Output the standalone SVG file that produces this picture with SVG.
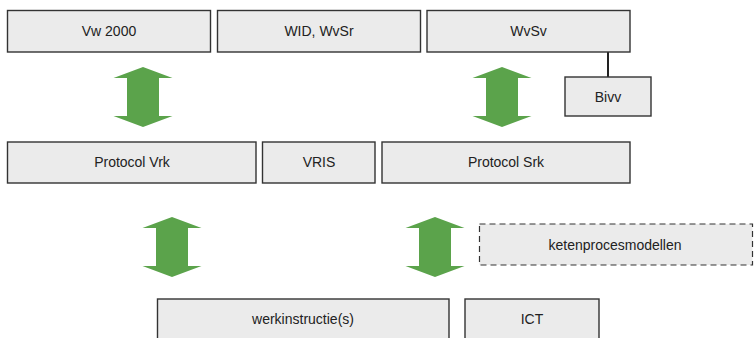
<svg xmlns="http://www.w3.org/2000/svg" width="755" height="338" viewBox="0 0 755 338">
<style>
.box{fill:#ebebeb;stroke:#333;stroke-width:1.4}
.dash{fill:#ebebeb;stroke:#333;stroke-width:1.2;stroke-dasharray:6,4}
.t{font-family:"Liberation Sans",Arial,sans-serif;font-size:14px;fill:#222;text-anchor:middle}
.arr{fill:#5ba34b}
.ln{stroke:#222;stroke-width:2;fill:none}
</style>
<defs>
<path id="dbl" class="arr" d="M0,0 L29.5,11 L16,11 L16,49 L29.5,49 L0,60 L-29.5,49 L-16,49 L-16,11 L-29.5,11 Z"/>
</defs>
<g id="connectors">
<line class="ln" x1="608" y1="52" x2="608" y2="77"/>
<use href="#dbl" x="143" y="67"/>
<use href="#dbl" x="502" y="67"/>
<use href="#dbl" x="172" y="217"/>
<use href="#dbl" x="435" y="217"/>
</g>
<g id="vw2000"><rect class="box" x="7.5" y="10.5" width="203" height="41.5"/><text class="t" x="109" y="36">Vw 2000</text></g>
<g id="wid"><rect class="box" x="217.5" y="10.5" width="203" height="41.5"/><text class="t" x="319" y="36">WID, WvSr</text></g>
<g id="wvsv"><rect class="box" x="427" y="10.5" width="203" height="41.5"/><text class="t" x="528.5" y="36">WvSv</text></g>
<g id="bivv"><rect class="box" x="565" y="77" width="86" height="39"/><text class="t" x="608" y="102">Bivv</text></g>
<g id="protocolvrk"><rect class="box" x="7.5" y="142" width="248.5" height="41"/><text class="t" x="132" y="167">Protocol Vrk</text></g>
<g id="vris"><rect class="box" x="262.5" y="142" width="112.5" height="41"/><text class="t" x="319" y="167">VRIS</text></g>
<g id="protocolsrk"><rect class="box" x="382" y="142" width="248" height="41"/><text class="t" x="506" y="167">Protocol Srk</text></g>
<g id="ketenprocesmodellen"><rect class="dash" x="479.5" y="224" width="273" height="41"/><text class="t" x="615" y="250">ketenprocesmodellen</text></g>
<g id="werkinstructies"><rect class="box" x="157.5" y="299" width="291.5" height="45"/><text class="t" x="303" y="324">werkinstructie(s)</text></g>
<g id="ict"><rect class="box" x="465" y="299" width="134" height="45"/><text class="t" x="532" y="324">ICT</text></g>
</svg>
